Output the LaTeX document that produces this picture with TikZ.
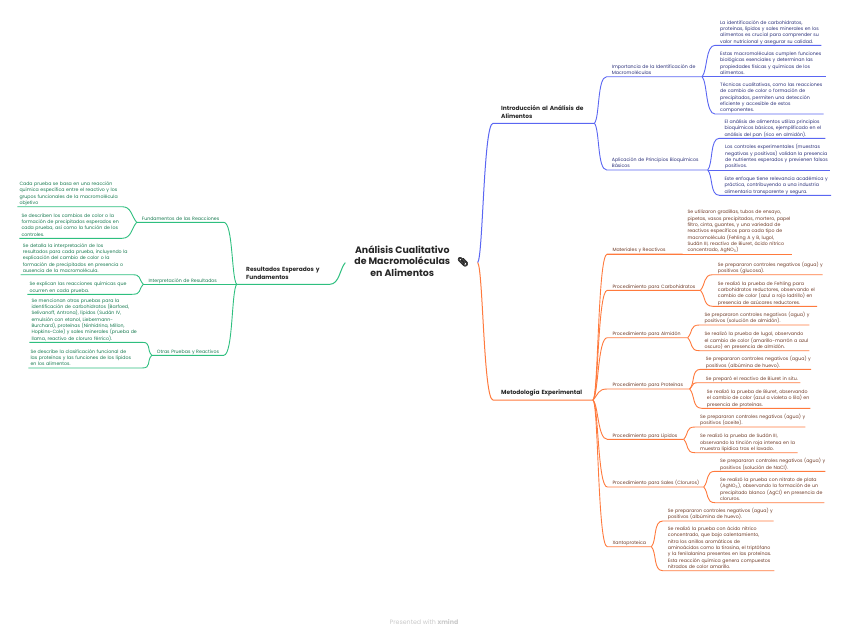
\documentclass[tikz,border=0pt]{standalone}
\usepackage{fontspec}
\setmainfont{Poppins}
\newfontfamily\clipfont[FakeBold=1.6]{Noto Emoji}
\newcommand{\padtext}[1]{\leftskip=#1\rightskip=-30pt plus 1fil}
\definecolor{bluebranch}{HTML}{5A66F2}
\definecolor{orangebranch}{HTML}{FF7A3D}
\definecolor{greenbranch}{HTML}{2EBF7F}
\definecolor{bluetext}{HTML}{2A2F78}
\definecolor{orangetext}{HTML}{6E3A26}
\definecolor{greentext}{HTML}{17794F}
\definecolor{marktext}{HTML}{C9C9C9}
\tikzset{
  topicnode/.style={inner xsep=0pt, inner ysep=0.2pt, anchor=south west, align=left,
    execute at begin node={\padtext{5pt}}, execute at end node={\strut}},
  mainnode/.style={topicnode, inner ysep=2.6pt, font=\fontsize{5.9}{7.8}\selectfont\bfseries, text=black!85},
  bluenode/.style={topicnode, font=\fontsize{4.7}{6.3}\selectfont, text=bluetext},
  orangenode/.style={topicnode, font=\fontsize{4.7}{6.3}\selectfont, text=orangetext},
  greennode/.style={topicnode, font=\fontsize{4.7}{6.3}\selectfont, text=greentext},
  greenleaf/.style={greennode, execute at begin node={\padtext{2pt}}},
  rootnode/.style={inner sep=0pt, minimum width=132pt, font=\fontsize{9.4}{11.7}\selectfont\bfseries, text=black!85},
  branchup/.style={out=48, in=180, out distance=8pt, in distance=9.5pt},
  branchdown/.style={out=-48, in=180, out distance=8pt, in distance=9.5pt},
  leftup/.style={out=132, in=0, out distance=8pt, in distance=9.5pt},
  leftdown/.style={out=-132, in=0, out distance=8pt, in distance=9.5pt},
  branchline/.style={line width=0.9pt},
  trunkline/.style={line width=1pt},
}
\begin{document}
\begin{tikzpicture}[x=1pt, y=-1pt]
  \useasboundingbox (0,0) rectangle (848,632);
  \node[rootnode] (root) at (411.5,262.6) {\begin{tabular}{@{}c@{}}Análisis Cualitativo\\de Macromoléculas\\en Alimentos\end{tabular}\hspace{7pt}{\normalfont\clipfont\fontsize{9}{9}\selectfont 📎}};
  % right side, blue
  \node[mainnode, text width=101pt, execute at begin node={\padtext{8pt}}] (intro) at (493,123.3) {Introducción al Análisis de\\Alimentos};
  \node[bluenode, text width=95pt] (importancia) at (606.7,76.7) {Importancia de la Identificación de\\Macromoléculas};
  \node[bluenode, text width=100.6pt] (aplicacion) at (606.7,170) {Aplicación de Principios Bioquímicos\\Básicos};
  \node[bluenode, text width=106pt] (imp1) at (715,45.3) {La identificación de carbohidratos,\\proteínas, lípidos y sales minerales en los\\alimentos es crucial para comprender su\\valor nutricional y asegurar su calidad.};
  \node[bluenode, text width=124pt, execute at begin node={\padtext{18.3pt}}] (imp2) at (701.7,76.7) {Estas macromoléculas cumplen funciones\\biológicas esenciales y determinan las\\propiedades físicas y químicas de los\\alimentos.};
  \node[bluenode, text width=108.3pt] (imp3) at (715,114) {Técnicas cualitativas, como las reacciones\\de cambio de color o formación de\\precipitados, permiten una detección\\eficiente y accesible de estos\\componentes.};
  \node[bluenode, text width=105.7pt] (apl1) at (719.3,138.3) {El análisis de alimentos utiliza principios\\bioquímicos básicos, ejemplificado en el\\análisis del pan (rico en almidón).};
  \node[bluenode, text width=122.7pt, execute at begin node={\padtext{17.7pt}}] (apl2) at (707.3,170) {Los controles experimentales (muestras\\negativas y positivas) validan la presencia\\de nutrientes esperados y previenen falsos\\positivos.};
  \node[bluenode, text width=111.4pt] (apl3) at (719.3,195.3) {Este enfoque tiene relevancia académica y\\práctica, contribuyendo a una industria\\alimentaria transparente y segura.};
  % right side, orange
  \node[mainnode, text width=99.7pt, execute at begin node={\padtext{8pt}}] (metodologia) at (493,400) {Metodología Experimental};
  \node[orangenode, text width=75pt] (materiales) at (607.3,254) {Materiales y Reactivos};
  \node[orangenode, text width=92.7pt] (carbo) at (607.3,290.3) {Procedimiento para Carbohidratos};
  \node[orangenode, text width=80pt] (almidon) at (607.3,337.7) {Procedimiento para Almidón};
  \node[orangenode, text width=82pt] (proteinas) at (607.3,389) {Procedimiento para Proteínas};
  \node[orangenode, text width=76pt] (lipidos) at (607.3,439.3) {Procedimiento para Lípidos};
  \node[orangenode, text width=96pt] (sales) at (607.3,487) {Procedimiento para Sales (Cloruros)};
  \node[orangenode, text width=43.7pt] (xanto) at (607.3,546.7) {Xantoproteica};
  \node[orangenode, text width=109.4pt] (mat1) at (682.3,254) {Se utilizaron gradillas, tubos de ensayo,\\pipetas, vasos precipitados, mortero, papel\\filtro, cinta, guantes, y una variedad de\\reactivos específicos para cada tipo de\\macromolécula (Fehling A y B, lugol,\\Sudán III, reactivo de Biuret, ácido nítrico\\concentrado, AgNO\textsubscript{3})};
  \node[orangenode, text width=109.6pt] (car1) at (712.7,274.7) {Se prepararon controles negativos (agua) y\\positivos (glucosa).};
  \node[orangenode, text width=104pt] (car2) at (712.7,306.3) {Se realizó la prueba de Fehling para\\carbohidratos reductores, observando el\\cambio de color (azul a rojo ladrillo) en\\presencia de azúcares reductores.};
  \node[orangenode, text width=109.7pt] (alm1) at (699.3,325) {Se prepararon controles negativos (agua) y\\positivos (solución de almidón).};
  \node[orangenode, text width=109.7pt] (alm2) at (699.3,350.7) {Se realizó la prueba de lugol, observando\\el cambio de color (amarillo-marrón a azul\\oscuro) en presencia de almidón.};
  \node[orangenode, text width=110pt] (pro1) at (700.7,369.3) {Se prepararon controles negativos (agua) y\\positivos (albúmina de huevo).};
  \node[orangenode, text width=99.3pt] (pro2) at (700.7,382.7) {Se preparó el reactivo de Biuret in situ.};
  \node[orangenode, text width=108.3pt] (pro3) at (701.7,408.3) {Se realizó la prueba de Biuret, observando\\el cambio de color (azul a violeta o lila) en\\presencia de proteínas.};
  \node[orangenode, text width=110pt] (lip1) at (695,427) {Se prepararon controles negativos (agua) y\\positivos (aceite).};
  \node[orangenode, text width=102.3pt] (lip2) at (695,452.7) {Se realizó la prueba de Sudán III,\\observando la tinción roja intensa en la\\muestra lipídica tras el lavado.};
  \node[orangenode, text width=110pt] (sal1) at (715,471.3) {Se prepararon controles negativos (agua) y\\positivos (solución de NaCl).};
  \node[orangenode, text width=109pt] (sal2) at (715,502.7) {Se realizó la prueba con nitrato de plata\\(AgNO\textsubscript{3}), observando la formación de un\\precipitado blanco (AgCl) en presencia de\\cloruros.};
  \node[orangenode, text width=110.6pt] (xan1) at (662.7,521) {Se prepararon controles negativos (agua) y\\positivos (albúmina de huevo).};
  \node[orangenode, text width=111.3pt] (xan2) at (662.7,570.7) {Se realizó la prueba con ácido nítrico\\concentrado, que bajo calentamiento,\\nitra los anillos aromáticos de\\aminoácidos como la tirosina, el triptófano\\y la fenilalanina presentes en las proteínas.\\Esta reacción química genera compuestos\\nitrados de color amarillo.};
  % left side, green
  \node[mainnode, text width=92.7pt, execute at begin node={\padtext{9.3pt}}] (resultados) at (236.7,284.3) {Resultados Esperados y\\Fundamentos};
  \node[greennode, text width=86.6pt] (fundamentos) at (136.7,222.3) {Fundamentos de las Reacciones};
  \node[greennode, text width=93.4pt] (interpretacion) at (143.3,284.3) {Interpretación de Resultados};
  \node[greennode, text width=71.6pt] (otras) at (151.7,355.3) {Otras Pruebas y Reactivos};
  \node[greenleaf, text width=104.4pt] (fun1) at (17.3,206.7) {Cada prueba se basa en una reacción\\química específica entre el reactivo y los\\grupos funcionales de la macromolécula\\objetivo};
  \node[greenleaf, text width=102.4pt] (fun2) at (19.3,238.3) {Se describen los cambios de color o la\\formación de precipitados esperados en\\cada prueba, así como la función de los\\controles.};
  \node[greenleaf, text width=111pt] (int1) at (20.7,274.7) {Se detalla la interpretación de los\\resultados para cada prueba, incluyendo la\\explicación del cambio de color o la\\formación de precipitados en presencia o\\ausencia de la macromolécula.};
  \node[greenleaf, text width=104.4pt] (int2) at (27.3,294.3) {Se explican las reacciones químicas que\\ocurren en cada prueba.};
  \node[greenleaf, text width=112.4pt] (otr1) at (29.3,342.3) {Se mencionan otras pruebas para la\\identificación de carbohidratos (Barfoed,\\Selivanoff, Antrona), lípidos (Sudán IV,\\emulsión con etanol, Liebermann-\\Burchard), proteínas (Ninhidrina, Millon,\\Hopkins-Cole) y sales minerales (prueba de\\llama, reactivo de cloruro férrico).};
  \node[greenleaf, text width=113.4pt] (otr2) at (28.3,368) {Se describe la clasificación funcional de\\las proteínas y las funciones de los lípidos\\en los alimentos.};
  \node[text=marktext, font=\fontsize{6.3}{7}\selectfont] (mark) at (424,621.5) {Presented with \textbf{xmind}};
  % branches
  \draw[bluebranch, trunkline] (root.east) to[branchup] (intro.south west) -- (intro.south east);
  \draw[orangebranch, trunkline] (root.east) to[branchdown] (metodologia.south west) -- (metodologia.south east);
  \draw[greenbranch, trunkline] (root.west) to[leftdown] (resultados.south east) -- (resultados.south west);
  \foreach \from/\kid/\bend in {intro/importancia/branchup, intro/aplicacion/branchdown, importancia/imp1/branchup, importancia/imp3/branchdown, aplicacion/apl1/branchup, aplicacion/apl3/branchdown}
    \draw[bluebranch, branchline] (\from.south east) to[\bend] (\kid.south west) -- (\kid.south east);
  \draw[bluebranch, branchline] (importancia.south east) -- (imp2.south east);
  \draw[bluebranch, branchline] (aplicacion.south east) -- (apl2.south east);
  \foreach \from/\kid/\bend in {metodologia/materiales/branchup, metodologia/carbo/branchup, metodologia/almidon/branchup, metodologia/proteinas/branchup, metodologia/lipidos/branchdown, metodologia/sales/branchdown, metodologia/xanto/branchdown, carbo/car1/branchup, carbo/car2/branchdown, almidon/alm1/branchup, almidon/alm2/branchdown, proteinas/pro1/branchup, proteinas/pro2/branchup, proteinas/pro3/branchdown, lipidos/lip1/branchup, lipidos/lip2/branchdown, sales/sal1/branchup, sales/sal2/branchdown, xanto/xan1/branchup, xanto/xan2/branchdown}
    \draw[orangebranch, branchline] (\from.south east) to[\bend] (\kid.south west) -- (\kid.south east);
  \draw[orangebranch, branchline] (materiales.south west) -- (mat1.south east);
  \foreach \from/\kid/\bend in {resultados/fundamentos/leftup, resultados/otras/leftdown, fundamentos/fun1/leftup, fundamentos/fun2/leftdown, interpretacion/int1/leftup, interpretacion/int2/leftdown, otras/otr1/leftup, otras/otr2/leftdown}
    \draw[greenbranch, branchline] (\from.south west) to[\bend] (\kid.south east) -- (\kid.south west);
  \draw[greenbranch, branchline] (resultados.south west) -- (interpretacion.south west);
\end{tikzpicture}
\end{document}
